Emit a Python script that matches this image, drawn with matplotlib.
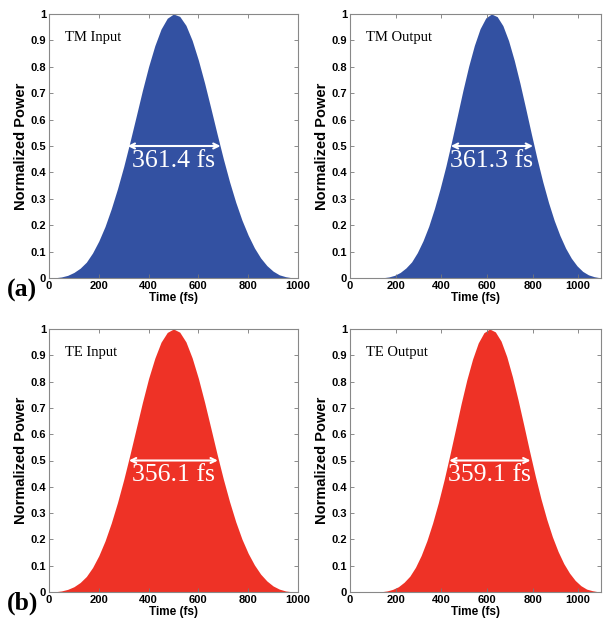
import numpy as np
import matplotlib
matplotlib.use("Agg")
import matplotlib.pyplot as plt

# ---------------- data ----------------
time_in = np.arange(0, 1001, 25)          # fs grid, input panels
time_tm_out = np.arange(120, 1121, 25)    # fs grid, TM output panel
time_te_out = np.arange(112, 1113, 25)    # fs grid, TE output panel

tm_input = [0.0, 0.001, 0.004, 0.010, 0.021, 0.037, 0.060, 0.095, 0.140, 0.195,
            0.262, 0.338, 0.422, 0.515, 0.612, 0.710, 0.801, 0.880, 0.943, 0.984,
            1.000, 0.991, 0.957, 0.900, 0.825, 0.738, 0.643, 0.546, 0.452, 0.365,
            0.287, 0.219, 0.162, 0.114, 0.076, 0.047, 0.026, 0.012, 0.005, 0.001, 0.0]

tm_output = [0.0, 0.001, 0.004, 0.010, 0.021, 0.038, 0.061, 0.096, 0.141, 0.196,
             0.263, 0.339, 0.423, 0.516, 0.613, 0.711, 0.802, 0.881, 0.944, 0.985,
             1.000, 0.990, 0.956, 0.899, 0.824, 0.737, 0.642, 0.545, 0.451, 0.364,
             0.286, 0.218, 0.161, 0.113, 0.075, 0.046, 0.025, 0.012, 0.005, 0.001, 0.0]

te_input = [0.0, 0.001, 0.004, 0.010, 0.020, 0.036, 0.059, 0.093, 0.138, 0.194,
            0.262, 0.340, 0.427, 0.522, 0.621, 0.720, 0.812, 0.889, 0.950, 0.987,
            1.000, 0.988, 0.951, 0.890, 0.812, 0.721, 0.623, 0.524, 0.430, 0.344,
            0.267, 0.201, 0.147, 0.103, 0.068, 0.042, 0.023, 0.011, 0.004, 0.001, 0.0]

te_output = [0.0, 0.001, 0.004, 0.010, 0.020, 0.037, 0.060, 0.094, 0.139, 0.195,
             0.262, 0.339, 0.425, 0.519, 0.617, 0.716, 0.807, 0.885, 0.947, 0.986,
             1.000, 0.989, 0.954, 0.895, 0.818, 0.729, 0.633, 0.535, 0.441, 0.354,
             0.277, 0.210, 0.154, 0.108, 0.072, 0.044, 0.024, 0.011, 0.005, 0.001, 0.0]

panel_titles = ["TM Input", "TM Output", "TE Input", "TE Output"]
fwhm_labels = ["361.4 fs", "361.3 fs", "356.1 fs", "359.1 fs"]
fwhm_left = [316, 442, 321, 435]
fwhm_right = [689, 802, 678, 791]
fwhm_text_x = [502, 622, 498, 612]
panel_letters = ["(a)", "(b)"]
xlims = [1000, 1100, 1000, 1100]
xticks = [0, 200, 400, 600, 800, 1000]
yticks = [0, 0.1, 0.2, 0.3, 0.4, 0.5, 0.6, 0.7, 0.8, 0.9, 1]
ytick_labels = ["0", "0.1", "0.2", "0.3", "0.4", "0.5", "0.6", "0.7", "0.8", "0.9", "1"]

series = [(time_in, tm_input), (time_tm_out, tm_output),
          (time_in, te_input), (time_te_out, te_output)]
colors = ["#3351A2", "#3351A2", "#EE3226", "#EE3226"]

# ---------------- figure ----------------
W, H = 603, 621
fig = plt.figure(figsize=(W / 100, H / 100), dpi=100)

boxes = [(49, 14, 298, 278), (350, 14, 601, 278),
         (49, 329, 298, 592), (350, 329, 601, 592)]

serif = ["Liberation Serif", "DejaVu Serif"]
sans = ["Liberation Sans", "DejaVu Sans"]

for i, (l, t, r, b) in enumerate(boxes):
    ax = fig.add_axes([l / W, 1 - b / H, (r - l) / W, (b - t) / H])
    tx, py = series[i]
    ax.fill_between(tx, 0, py, color=colors[i], linewidth=0)
    ax.set_xlim(0, xlims[i])
    ax.set_ylim(0, 1)
    ax.set_xticks(xticks)
    ax.set_yticks(yticks)
    ax.set_yticklabels(ytick_labels)
    ax.tick_params(direction="in", top=True, right=True, length=3, width=0.6,
                   color="#777777", labelsize=8, pad=2)
    for lab in ax.get_xticklabels() + ax.get_yticklabels():
        lab.set_fontweight("bold")
        lab.set_family(sans)
    for sp in ax.spines.values():
        sp.set_color("#888888")
        sp.set_linewidth(0.8)
    ax.set_xlabel("Time (fs)", fontsize=8.5, fontweight="bold", family=sans, labelpad=1)
    ax.set_ylabel("Normalized Power", fontsize=10.5, fontweight="bold", family=sans, labelpad=2)

    ax.text(0.065, 0.91, panel_titles[i], transform=ax.transAxes,
            ha="left", va="center", fontsize=10.5, family=serif)

    ax.annotate("", xy=(fwhm_left[i], 0.5), xytext=(fwhm_right[i], 0.5),
                arrowprops=dict(arrowstyle="<->", color="white", lw=1.5,
                                shrinkA=0, shrinkB=0, mutation_scale=9))
    ax.text(fwhm_text_x[i], 0.443, fwhm_labels[i], ha="center", va="center",
            color="white", fontsize=18.5, family=serif)

fig.text(7 / W, 1 - 290 / H, panel_letters[0], fontsize=18.5, fontweight="bold",
         family=serif, ha="left", va="center")
fig.text(7 / W, 1 - 603 / H, panel_letters[1], fontsize=18.5, fontweight="bold",
         family=serif, ha="left", va="center")

fig.savefig("out.png", dpi=100)
